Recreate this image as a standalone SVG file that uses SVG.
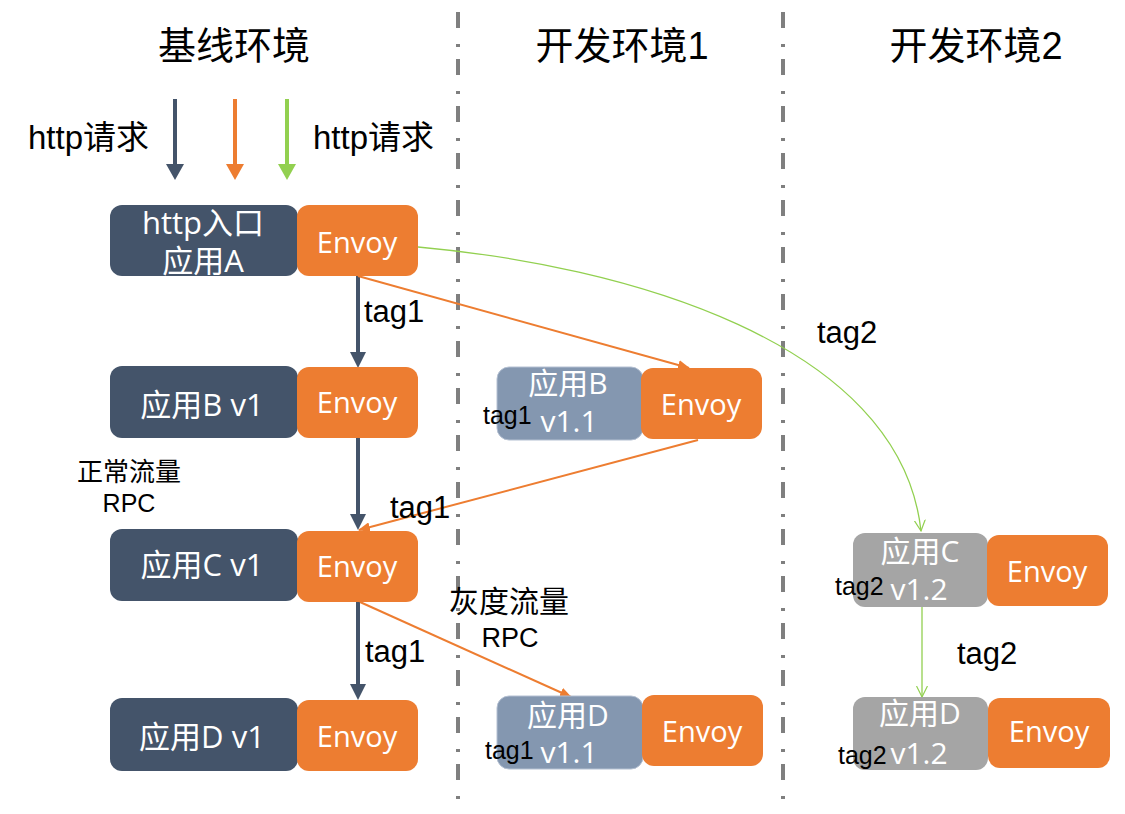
<svg xmlns="http://www.w3.org/2000/svg" width="1125" height="814" viewBox="0 0 1125 814">
<style>
.bg{fill:#ffffff}
.sep{stroke:#7f7f7f;stroke-width:4;stroke-dasharray:16 16 3 12;fill:none}
.hdr{font-family:"Liberation Sans","Noto Sans CJK SC",sans-serif;font-size:38px;fill:#000;text-anchor:middle}
.lbl{font-family:"Liberation Sans","Noto Sans CJK SC",sans-serif;fill:#000}
.app{fill:#44546A}
.dev1{fill:#8497B0;stroke:#b4c0d2;stroke-width:1}
.dev2{fill:#A5A5A5}
.env{fill:#ED7D31}
.wt{font-family:"Open Sans","Noto Sans CJK SC",sans-serif;font-size:31px;fill:#fff;text-anchor:middle}
.wt2{font-family:"Open Sans","Noto Sans CJK SC",sans-serif;font-size:30px;fill:#fff;text-anchor:middle}
.et{font-family:"Open Sans",sans-serif;font-size:29px;fill:#fff;text-anchor:middle}
.dk{stroke:#44546A;stroke-width:4;fill:none}
.or{stroke:#ED7D31;fill:none}
.gr{stroke:#92D050;fill:none}
</style>
<defs>
<marker id="hDark" markerUnits="userSpaceOnUse" viewBox="0 0 16 16" markerWidth="16" markerHeight="16" refX="0" refY="8" orient="auto"><path d="M0,0 L16,8 L0,16 z" fill="#44546A"/></marker>
<marker id="hDarkBig" markerUnits="userSpaceOnUse" viewBox="0 0 16 18" markerWidth="16" markerHeight="18" refX="0" refY="9" orient="auto"><path d="M0,0 L16,9 L0,18 z" fill="#44546A"/></marker>
<marker id="hOrBig" markerUnits="userSpaceOnUse" viewBox="0 0 16 18" markerWidth="16" markerHeight="18" refX="0" refY="9" orient="auto"><path d="M0,0 L16,9 L0,18 z" fill="#ED7D31"/></marker>
<marker id="hGrBig" markerUnits="userSpaceOnUse" viewBox="0 0 16 18" markerWidth="16" markerHeight="18" refX="0" refY="9" orient="auto"><path d="M0,0 L16,9 L0,18 z" fill="#92D050"/></marker>
<marker id="hOr" markerUnits="userSpaceOnUse" viewBox="0 0 12 10" markerWidth="12" markerHeight="10" refX="11" refY="5" orient="auto"><path d="M0,0 L12,5 L0,10 z" fill="#ED7D31"/></marker>
<marker id="hGr" markerUnits="userSpaceOnUse" viewBox="0 0 12 12" markerWidth="12" markerHeight="12" refX="11" refY="6" orient="auto"><path d="M0,0.5 L11,6 L0,11.5" fill="none" stroke="#92D050" stroke-width="1.2"/></marker>
</defs>
<rect class="bg" x="0" y="0" width="1125" height="814"/>

<g id="separators">
<line class="sep" x1="458" y1="12" x2="458" y2="802"/>
<line class="sep" x1="783" y1="12" x2="783" y2="802"/>
</g>

<g id="headers">
<text class="hdr" x="234" y="59">基线环境</text>
<text class="hdr" x="622" y="59">开发环境1</text>
<text class="hdr" x="976" y="59">开发环境2</text>
</g>

<g id="connectors">
<line class="dk" x1="175" y1="99" x2="175" y2="164" marker-end="url(#hDarkBig)"/>
<line class="or" stroke-width="4" x1="235" y1="99" x2="235" y2="164" marker-end="url(#hOrBig)"/>
<line class="gr" stroke-width="4" x1="287" y1="99" x2="287" y2="164" marker-end="url(#hGrBig)"/>
<line class="dk" x1="358" y1="276" x2="358" y2="352" marker-end="url(#hDark)"/>
<line class="dk" x1="358" y1="438" x2="358" y2="514" marker-end="url(#hDark)"/>
<line class="dk" x1="358" y1="601" x2="358" y2="684" marker-end="url(#hDark)"/>
<line class="or" stroke-width="2" x1="358" y1="276" x2="689" y2="368" marker-end="url(#hOr)"/>
<line class="or" stroke-width="2" x1="698" y1="440" x2="359" y2="530" marker-end="url(#hOr)"/>
<line class="or" stroke-width="2" x1="360" y1="602" x2="571" y2="697" marker-end="url(#hOr)"/>
<path class="gr" stroke-width="1.3" d="M418,247 C620,265 900,340 921,531" marker-end="url(#hGr)"/>
<line class="gr" stroke-width="1.3" x1="922" y1="607" x2="922" y2="697" marker-end="url(#hGr)"/>
</g>

<g id="labels">
<text class="lbl" x="28" y="149" font-size="33">http请求</text>
<text class="lbl" x="313" y="149" font-size="33">http请求</text>
<text class="lbl" x="364" y="322" font-size="31">tag1</text>
<text class="lbl" x="390" y="518" font-size="31">tag1</text>
<text class="lbl" x="365" y="662" font-size="31">tag1</text>
<text class="lbl" x="817" y="343" font-size="31">tag2</text>
<text class="lbl" x="957" y="664" font-size="31">tag2</text>
<text class="lbl" x="129" y="481" font-size="26" text-anchor="middle">正常流量</text>
<text class="lbl" x="129" y="512" font-size="25" text-anchor="middle">RPC</text>
<text class="lbl" x="509" y="612" font-size="30" text-anchor="middle">灰度流量</text>
<text class="lbl" x="510" y="647" font-size="27" text-anchor="middle">RPC</text>
</g>

<g id="node-a">
<rect class="app" x="110" y="205" width="188" height="71" rx="12"/>
<rect class="env" x="297" y="205" width="121" height="71" rx="12"/>
<text class="wt" x="203" y="234">http入口</text>
<text class="wt" x="203" y="272">应用A</text>
<text class="et" x="357" y="253">Envoy</text>
</g>

<g id="node-b-v1">
<rect class="app" x="110" y="366" width="188" height="72" rx="12"/>
<rect class="env" x="297" y="367" width="121" height="71" rx="12"/>
<text class="wt" x="202" y="416">应用B v1</text>
<text class="et" x="357" y="413">Envoy</text>
</g>

<g id="node-c-v1">
<rect class="app" x="110" y="529" width="188" height="72" rx="12"/>
<rect class="env" x="297" y="531" width="121" height="71" rx="12"/>
<text class="wt" x="202" y="576">应用C v1</text>
<text class="et" x="357" y="577">Envoy</text>
</g>

<g id="node-d-v1">
<rect class="app" x="110" y="698" width="188" height="73" rx="12"/>
<rect class="env" x="297" y="700" width="121" height="71" rx="12"/>
<text class="wt" x="202" y="748">应用D v1</text>
<text class="et" x="357" y="747">Envoy</text>
</g>

<g id="node-b-v11">
<rect class="dev1" x="497" y="367" width="146" height="73" rx="12"/>
<rect class="env" x="641" y="368" width="121" height="71" rx="12"/>
<text class="wt2" x="568" y="394">应用B</text>
<text class="wt2" x="569" y="432">v1.1</text>
<text class="et" x="701" y="415">Envoy</text>
<text class="lbl" x="483" y="424" font-size="25">tag1</text>
</g>

<g id="node-d-v11">
<rect class="dev1" x="497" y="696" width="146" height="73" rx="12"/>
<rect class="env" x="642" y="695" width="121" height="71" rx="12"/>
<text class="wt2" x="568" y="726">应用D</text>
<text class="wt2" x="569" y="763">v1.1</text>
<text class="et" x="702" y="742">Envoy</text>
<text class="lbl" x="485" y="759" font-size="25">tag1</text>
</g>

<g id="node-c-v12">
<rect class="dev2" x="853" y="533" width="135" height="74" rx="12"/>
<rect class="env" x="987" y="535" width="121" height="71" rx="12"/>
<text class="wt2" x="920" y="562">应用C</text>
<text class="wt2" x="919" y="600">v1.2</text>
<text class="et" x="1047" y="582">Envoy</text>
<text class="lbl" x="835" y="595" font-size="25">tag2</text>
</g>

<g id="node-d-v12">
<rect class="dev2" x="853" y="697" width="135" height="73" rx="12"/>
<rect class="env" x="988" y="698" width="122" height="70" rx="12"/>
<text class="wt2" x="920" y="724">应用D</text>
<text class="wt2" x="919" y="764">v1.2</text>
<text class="et" x="1049" y="742">Envoy</text>
<text class="lbl" x="838" y="764" font-size="25">tag2</text>
</g>
</svg>
